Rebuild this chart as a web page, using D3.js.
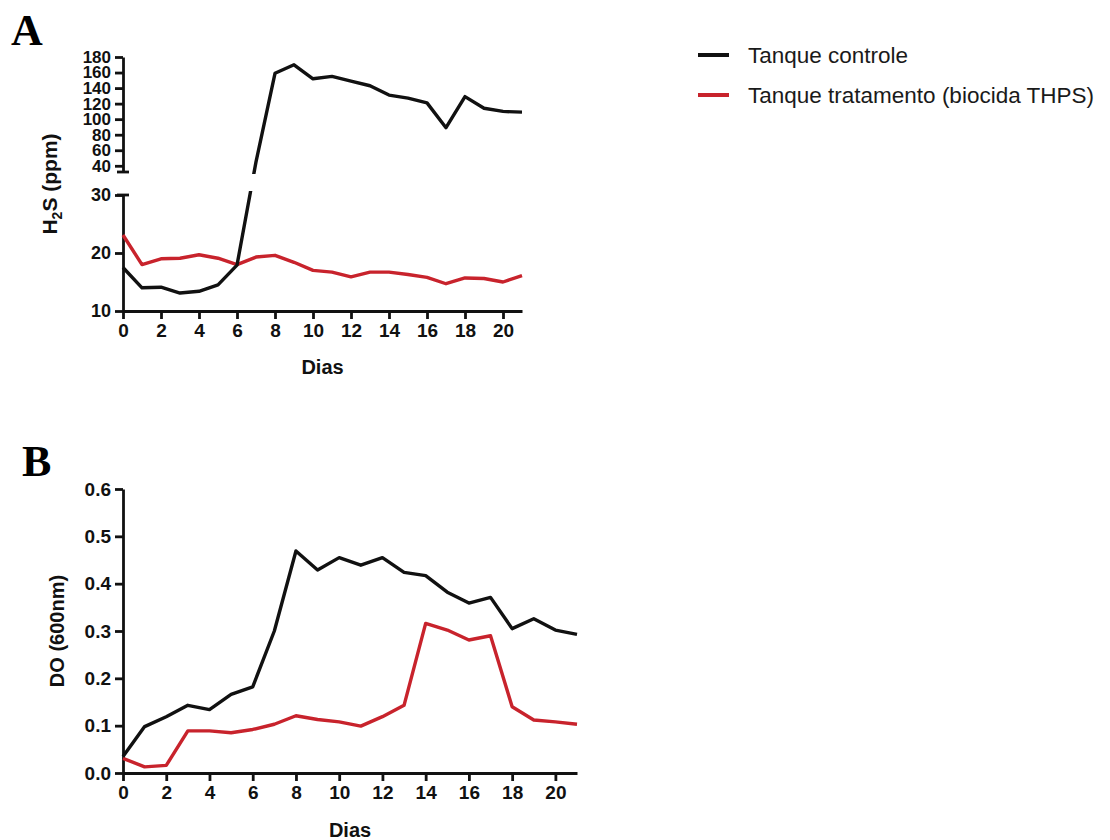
<!DOCTYPE html>
<html>
<head>
<meta charset="utf-8">
<script src="https://cdn.jsdelivr.net/npm/d3@7/dist/d3.min.js"></script>
<style>
  html, body { margin: 0; padding: 0; background: #fff; }
  svg { display: block; }
  .tick text, .lbl { font-family: "Liberation Sans", Arial, sans-serif; font-weight: bold; fill: #111; }
  .legend text { font-family: "Liberation Sans", Arial, sans-serif; fill: #1a1a1a; }
  .panel { font-family: "Liberation Serif", "Times New Roman", serif; font-weight: bold; fill: #000; }
</style>
</head>
<body>
<script>
// Sampling days
const days = [0, 1, 2, 3, 4, 5, 6, 7, 8, 9, 10, 11, 12, 13, 14, 15, 16, 17, 18, 19, 20, 21];
const dayTicks = [0, 2, 4, 6, 8, 10, 12, 14, 16, 18, 20];

// Panel A: H2S (ppm)
const h2sControle   = [17.5, 14.0, 14.1, 13.1, 13.4, 14.5, 17.9, 45, 159, 170, 152, 155, 149, 143, 131, 127, 121, 89, 129, 114, 110, 109];
const h2sTratamento = [23.1, 18.0, 19.0, 19.1, 19.7, 19.1, 18.0, 19.3, 19.6, 18.4, 17.0, 16.7, 15.9, 16.7, 16.7, 16.3, 15.8, 14.7, 15.7, 15.6, 15.0, 16.1];
const h2sLowTicks  = [10, 20, 30];
const h2sHighTicks = [40, 60, 80, 100, 120, 140, 160, 180];

// Panel B: DO (600nm)
const doControle   = [0.035, 0.098, 0.119, 0.143, 0.134, 0.166, 0.182, 0.300, 0.469, 0.429, 0.455, 0.439, 0.455, 0.424, 0.417, 0.382, 0.359, 0.371, 0.305, 0.326, 0.302, 0.293];
const doTratamento = [0.031, 0.013, 0.016, 0.089, 0.089, 0.085, 0.092, 0.103, 0.121, 0.113, 0.108, 0.099, 0.119, 0.143, 0.316, 0.302, 0.281, 0.290, 0.140, 0.112, 0.108, 0.103];
const doTicks = [0, 0.1, 0.2, 0.3, 0.4, 0.5, 0.6];

// Legend
const seriesNames  = ["Tanque controle", "Tanque tratamento (biocida THPS)"];
const seriesColors = ["#111111", "#c8232c"];

const W = 1110, H = 840;
const svg = d3.select("body").append("svg").attr("width", W).attr("height", H);

const AXW = 2.8, LINEW = 3.4, TICK = 8;

function styleAxis(g, fontSize) {
  g.selectAll("path.domain").attr("stroke", "#111").attr("stroke-width", AXW);
  g.selectAll(".tick line").attr("stroke", "#111").attr("stroke-width", AXW);
  g.selectAll(".tick text").style("font-size", fontSize + "px");
}

// ---------- Panel A ----------
const xA = d3.scaleLinear().domain([0, 21]).range([123, 522]);
const yLow = d3.scaleLinear().domain([10, 30]).range([311, 195]);
const yHigh = d3.scaleLinear().domain([32, 180]).range([172, 57]);
const yA = v => (v <= 30 ? yLow(v) : yHigh(v));

const gA = svg.append("g");

gA.append("text").attr("class", "panel").attr("x", 11).attr("y", 45)
  .style("font-size", "44px").text("A");

// x axis
gA.append("g").attr("transform", `translate(0,${yLow(10)})`)
  .call(d3.axisBottom(xA).tickValues(dayTicks).tickSize(TICK).tickSizeOuter(0).tickPadding(5))
  .call(g => styleAxis(g, 19));

// broken y axis: lower segment
gA.append("g").attr("transform", `translate(${xA(0)},0)`)
  .call(d3.axisLeft(yLow).tickValues(h2sLowTicks).tickSize(TICK).tickSizeOuter(0).tickPadding(4))
  .call(g => styleAxis(g, 18));
// upper segment
gA.append("g").attr("transform", `translate(${xA(0)},0)`)
  .call(d3.axisLeft(yHigh).tickValues(h2sHighTicks).tickSize(TICK).tickSizeOuter(0).tickPadding(4))
  .call(g => styleAxis(g, 17));
// break caps
[yHigh(32), yLow(30)].forEach(yy => {
  gA.append("line").attr("x1", xA(0) - 6).attr("x2", xA(0) + 6)
    .attr("y1", yy).attr("y2", yy).attr("stroke", "#111").attr("stroke-width", AXW);
});

// clip for the axis break
const clipA = svg.append("defs").append("clipPath").attr("id", "clipA");
clipA.append("rect").attr("x", 0).attr("y", 0).attr("width", W).attr("height", yHigh(32) + 2);
clipA.append("rect").attr("x", 0).attr("y", yLow(30) - 4).attr("width", W).attr("height", 400 - yLow(30));

const lineA = d3.line().x((d, i) => xA(days[i])).y(d => yA(d));
[h2sTratamento, h2sControle].forEach((s, k) => {
  gA.append("path").datum(s).attr("d", lineA)
    .attr("clip-path", "url(#clipA)")
    .attr("fill", "none").attr("stroke", k === 0 ? seriesColors[1] : seriesColors[0])
    .attr("stroke-width", LINEW).attr("stroke-linejoin", "round");
});

// axis titles
const tA = gA.append("text").attr("class", "lbl").style("font-size", "21px")
  .attr("text-anchor", "middle")
  .attr("transform", `translate(57,${(yHigh(180) + yLow(10)) / 2}) rotate(-90)`);
tA.append("tspan").text("H");
tA.append("tspan").attr("dy", 5).style("font-size", "14px").text("2");
tA.append("tspan").attr("dy", -5).text("S (ppm)");

gA.append("text").attr("class", "lbl").style("font-size", "20px")
  .attr("text-anchor", "middle").attr("x", (xA(0) + xA(21)) / 2).attr("y", 374).text("Dias");

// ---------- Legend ----------
const leg = svg.append("g").attr("class", "legend");
seriesNames.forEach((n, i) => {
  const yy = 55 + i * 40;
  leg.append("line").attr("x1", 698).attr("x2", 729).attr("y1", yy).attr("y2", yy)
    .attr("stroke", seriesColors[i]).attr("stroke-width", 4);
  leg.append("text").attr("x", 748).attr("y", yy + 8).style("font-size", "22.5px").text(n);
});

// ---------- Panel B ----------
const xB = d3.scaleLinear().domain([0, 21]).range([123, 577]);
const yB = d3.scaleLinear().domain([0, 0.6]).range([773, 489]);
const gB = svg.append("g");

gB.append("text").attr("class", "panel").attr("x", 22).attr("y", 476)
  .style("font-size", "44px").text("B");

gB.append("g").attr("transform", `translate(0,${yB(0)})`)
  .call(d3.axisBottom(xB).tickValues(dayTicks).tickSize(TICK).tickSizeOuter(0).tickPadding(5))
  .call(g => styleAxis(g, 19));
gB.append("g").attr("transform", `translate(${xB(0)},0)`)
  .call(d3.axisLeft(yB).tickValues(doTicks).tickFormat(d3.format(".1f")).tickSize(TICK).tickSizeOuter(0).tickPadding(4))
  .call(g => styleAxis(g, 19));

const lineB = d3.line().x((d, i) => xB(days[i])).y(d => yB(d));
[doTratamento, doControle].forEach((s, k) => {
  gB.append("path").datum(s).attr("d", lineB)
    .attr("fill", "none").attr("stroke", k === 0 ? seriesColors[1] : seriesColors[0])
    .attr("stroke-width", LINEW).attr("stroke-linejoin", "round");
});

gB.append("text").attr("class", "lbl").style("font-size", "20px")
  .attr("text-anchor", "middle")
  .attr("transform", `translate(64,${(yB(0) + yB(0.6)) / 2}) rotate(-90)`)
  .text("DO (600nm)");

gB.append("text").attr("class", "lbl").style("font-size", "20px")
  .attr("text-anchor", "middle").attr("x", (xB(0) + xB(21)) / 2).attr("y", 837).text("Dias");
</script>
</body>
</html>
